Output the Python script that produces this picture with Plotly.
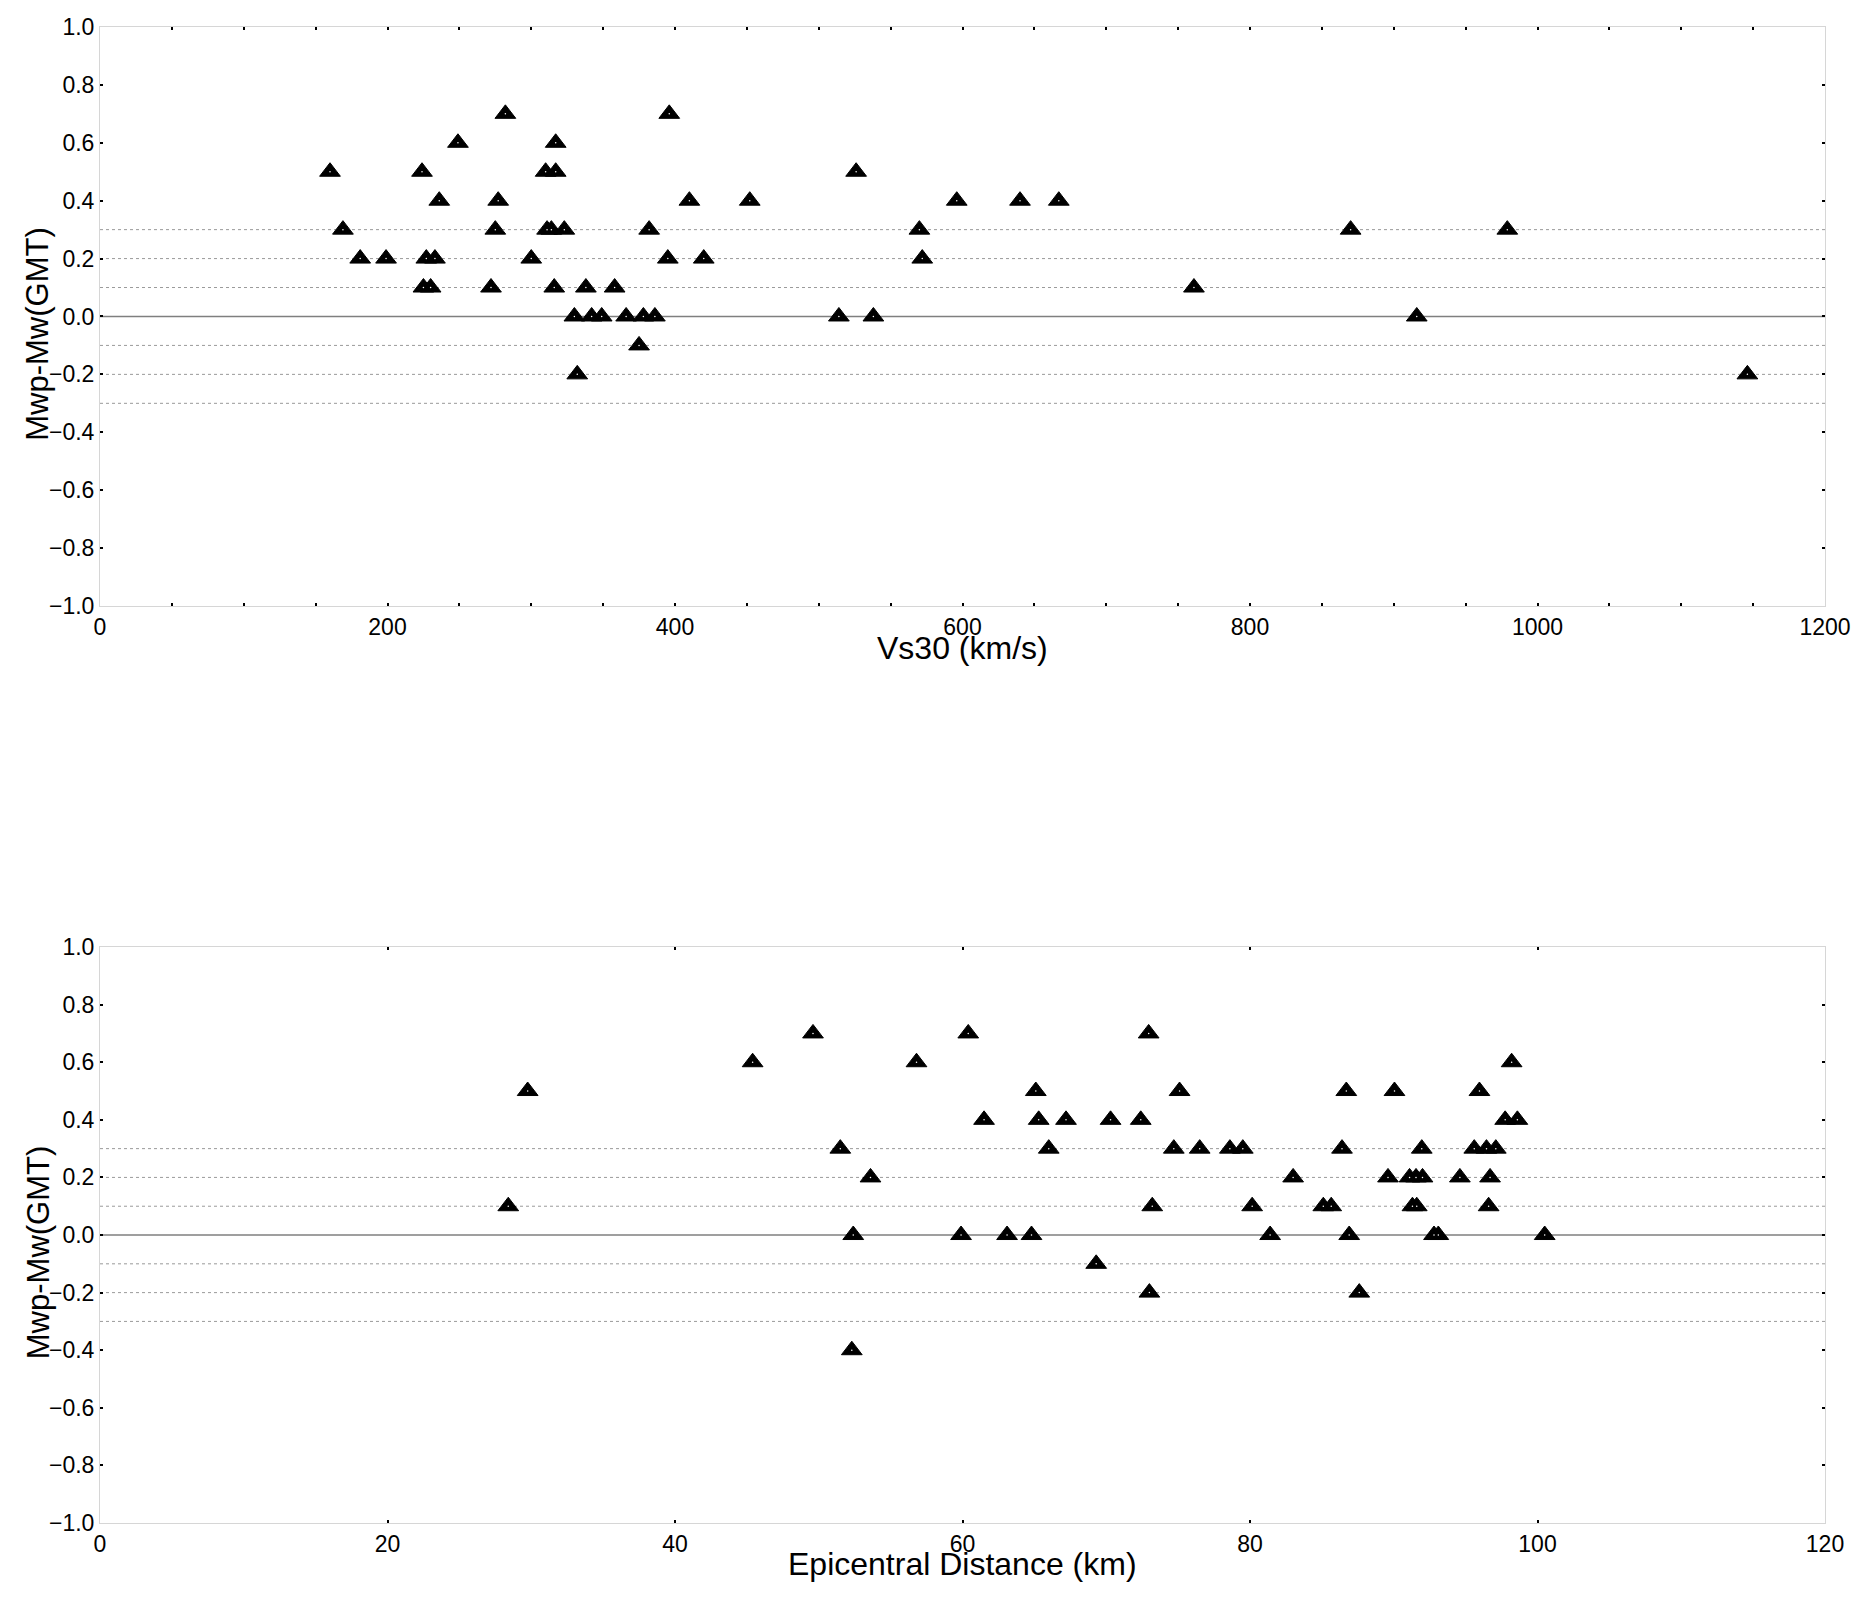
import plotly.graph_objects as go
from plotly.subplots import make_subplots

# Vs30 (km/s) vs Mwp-Mw
vs30 = [160, 169, 181, 199, 224, 225, 230, 227, 233, 236, 249, 282, 277, 275, 272,
        300, 310, 317, 317, 311, 314, 323, 316, 330, 342, 349, 366, 378, 386, 338,
        358, 375, 332, 382, 396, 395, 410, 420, 452, 526, 514, 538, 570, 572, 596,
        640, 667, 761, 870, 979, 916, 1146]
diff_vs30 = [0.5, 0.3, 0.2, 0.2, 0.5, 0.1, 0.1, 0.2, 0.2, 0.4, 0.6, 0.7, 0.4, 0.3, 0.1,
             0.2, 0.5, 0.5, 0.6, 0.3, 0.3, 0.3, 0.1, 0.0, 0.0, 0.0, 0.0, 0.0, 0.0, 0.1,
             0.1, -0.1, -0.2, 0.3, 0.7, 0.2, 0.4, 0.2, 0.4, 0.5, 0.0, 0.0, 0.3, 0.2, 0.4,
             0.4, 0.4, 0.1, 0.3, 0.3, 0.0, -0.2]

# Epicentral distance (km) vs Mwp-Mw
epi_dist = [28.4, 29.75, 45.4, 49.6, 51.5, 52.4, 52.3, 53.6, 56.8, 59.9, 60.4, 61.5,
            63.1, 64.8, 65.1, 65.3, 66.0, 67.2, 69.3, 70.3, 72.4, 72.95, 73.0, 73.2,
            74.7, 75.1, 76.5, 78.6, 79.5, 80.15, 81.4, 83.0, 85.1, 85.65, 86.4, 86.7,
            86.9, 87.6, 89.6, 90.05, 91.1, 91.3, 91.55, 91.6, 91.95, 92.0, 92.8, 93.1,
            94.6, 95.6, 95.96, 96.45, 96.6, 96.7, 97.1, 97.75, 98.2, 98.6, 100.5]
diff_epi = [0.1, 0.5, 0.6, 0.7, 0.3, 0.0, -0.4, 0.2, 0.6, 0.0, 0.7, 0.4,
            0.0, 0.0, 0.5, 0.4, 0.3, 0.4, -0.1, 0.4, 0.4, 0.7, -0.2, 0.1,
            0.3, 0.5, 0.3, 0.3, 0.3, 0.1, 0.0, 0.2, 0.1, 0.1, 0.3, 0.5,
            0.0, -0.2, 0.2, 0.5, 0.2, 0.1, 0.2, 0.1, 0.3, 0.2, 0.0, 0.0,
            0.2, 0.3, 0.5, 0.3, 0.1, 0.2, 0.3, 0.4, 0.6, 0.4, 0.0]

dotted_levels = [-0.3, -0.2, -0.1, 0.1, 0.2, 0.3]
zero_level = 0.0

FONT = "Liberation Sans"

fig = make_subplots(rows=2, cols=1)

for row, (xs, ys) in enumerate([(vs30, diff_vs30), (epi_dist, diff_epi)], start=1):
    fig.add_trace(go.Scatter(x=xs, y=ys, mode="markers",
                             marker=dict(symbol="triangle-up", size=18, color="black",
                                         line=dict(color="black", width=1))),
                  row=row, col=1)
    # tiny white dot in the middle of each triangle
    fig.add_trace(go.Scatter(x=xs, y=ys, mode="markers",
                             marker=dict(symbol="circle", size=1.5, color="white",
                                         line=dict(width=0))),
                  row=row, col=1)
    for lev in dotted_levels:
        fig.add_hline(y=lev, line=dict(color="#9a9a9a", width=1, dash="dot"),
                      layer="below", row=row, col=1)
    fig.add_hline(y=zero_level, line=dict(color="#7f7f7f", width=1.6),
                  layer="below", row=row, col=1)

axis_style = dict(showline=True, linecolor="#d6d6d6", linewidth=1, mirror="ticks",
                  ticks="inside", ticklen=3, tickwidth=2, tickcolor="black",
                  showgrid=False, zeroline=False,
                  tickfont=dict(family=FONT, size=23, color="black"))

fig.update_xaxes(**axis_style)
fig.update_yaxes(**axis_style)

fig.update_xaxes(range=[0, 1200], tick0=0, dtick=200,
                 minor=dict(dtick=50, ticks="inside", ticklen=3, tickwidth=2,
                            tickcolor="black"),
                 row=1, col=1)
fig.update_xaxes(range=[0, 120], tick0=0, dtick=20, row=2, col=1)
fig.update_yaxes(range=[-1, 1], tick0=-1, dtick=0.2, tickformat=".1f")

fig.update_layout(
    width=1873, height=1601,
    margin=dict(l=92, r=56, t=19, b=86, autoexpand=False),
    plot_bgcolor="white", paper_bgcolor="white",
    showlegend=False,
    xaxis=dict(domain=[0, 1]), yaxis=dict(domain=[0.613, 1]),
    xaxis2=dict(domain=[0, 1]), yaxis2=dict(domain=[0, 0.385]),
    font=dict(family=FONT, color="black"),
)

title_font = dict(family=FONT, size=32, color="black")
fig.add_annotation(text="Vs30 (km/s)", xref="paper", yref="paper", x=0.5, y=0.585,
                   xanchor="center", yanchor="middle", showarrow=False, font=title_font)
fig.add_annotation(text="Epicentral Distance (km)", xref="paper", yref="paper",
                   x=0.5, y=-0.0275, xanchor="center", yanchor="middle",
                   showarrow=False, font=title_font)
for yref in ["y domain", "y2 domain"]:
    fig.add_annotation(text="Mwp-Mw(GMT)", xref="paper", yref=yref, x=-0.036, y=0.47,
                       xanchor="center", yanchor="middle", textangle=-90,
                       showarrow=False, font=dict(family=FONT, size=31, color="black"))

fig.write_html("out.html")
